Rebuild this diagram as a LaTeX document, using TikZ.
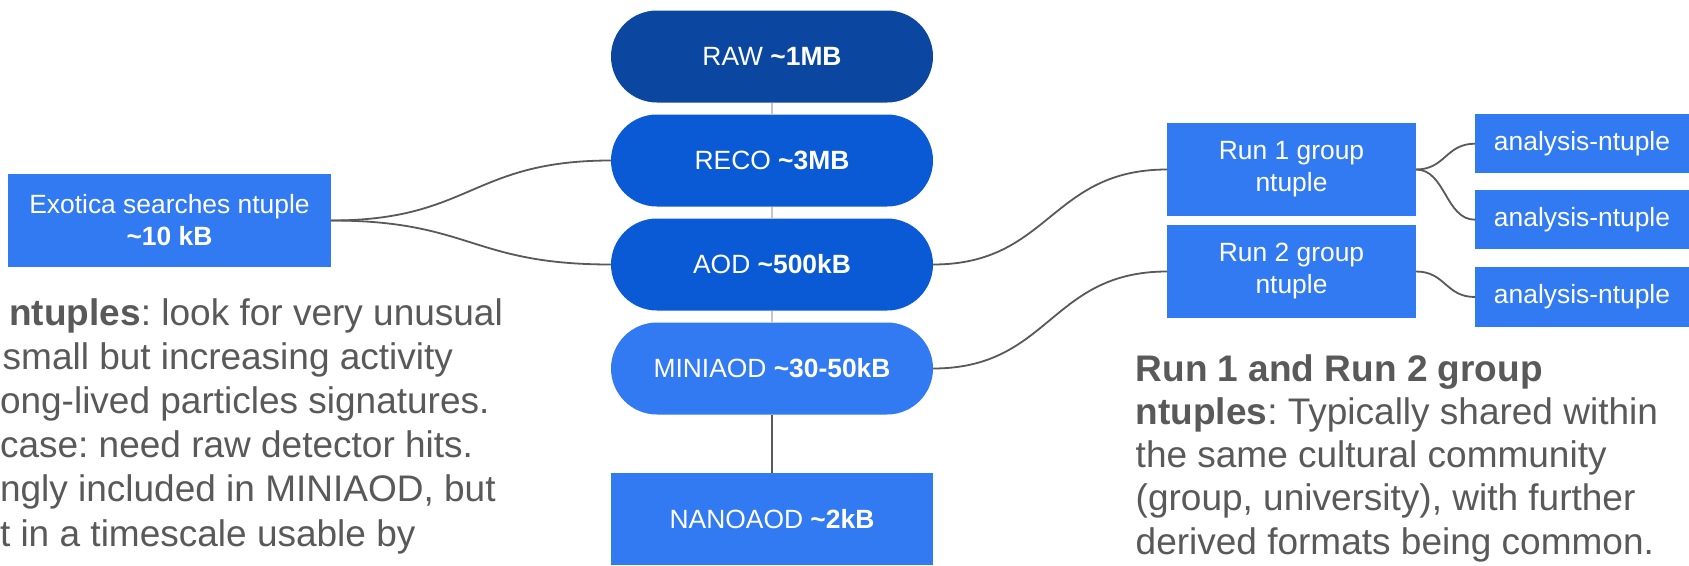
\documentclass[tikz,border=0pt]{standalone}
\usepackage{fontspec}
\setmainfont{Liberation Sans}
\usetikzlibrary{calc}
\definecolor{rawblue}{HTML}{0B47A1}
\definecolor{midblue}{HTML}{0B5AD5}
\definecolor{liteblue}{HTML}{327AF2}
\definecolor{txtgrey}{HTML}{595959}
\definecolor{lngrey}{HTML}{595959}
\definecolor{pale}{HTML}{C6C6C6}
\frenchspacing
\begin{document}
\begin{tikzpicture}[x=1pt,y=-1pt,
  box/.style={draw=none, inner sep=0pt, outer sep=0pt, text=white, align=center,
    font=\fontsize{26.4}{32}\selectfont},
  pill/.style={box, rounded corners=46pt, minimum width=322pt, minimum height=92pt},
  rectbox/.style={box, fill=liteblue},
  conn/.style={draw=lngrey, line width=1.8pt},
  paleline/.style={draw=pale, line width=2pt},
  note/.style={inner sep=0pt, outer sep=0pt, anchor=base west, text=txtgrey,
    font=\fontsize{37}{44}\selectfont},
  curvy/.style={to path={let \p1=(\tikztostart), \p2=(\tikztotarget) in
    .. controls ({0.5*\x1+0.5*\x2},\y1) and ({0.5*\x1+0.5*\x2},\y2) .. (\tikztotarget)}}
]
\fill[white] (0,0) rectangle (1689,565);
\useasboundingbox (0,0) rectangle (1689,565);

% central column
\node[pill, fill=rawblue]  (raw)  at (772,56.5)  {RAW \textbf{\textasciitilde1MB}};
\node[pill, fill=midblue]  (reco) at (772,160.5) {RECO \textbf{\textasciitilde3MB}};
\node[pill, fill=midblue]  (aod)  at (772,264.5) {AOD \textbf{\textasciitilde500kB}};
\node[pill, fill=liteblue] (mini) at (772,368.5) {MINIAOD \textbf{\textasciitilde30-50kB}};
\node[rectbox, minimum width=322pt, minimum height=92pt] (nano) at (772,519) {NANOAOD \textbf{\textasciitilde2kB}};

% side boxes
\node[rectbox, minimum width=323pt, minimum height=93pt] (exo) at (169.5,220.5)
  {Exotica searches ntuple\\\textbf{\textasciitilde10 kB}};
\node[rectbox, minimum width=249pt, minimum height=93pt] (run1) at (1291.5,169.5)
  {Run 1 group\\ntuple};
\node[rectbox, minimum width=249pt, minimum height=93pt] (run2) at (1291.5,271.5)
  {Run 2 group\\ntuple};
\node[rectbox, minimum width=214pt, minimum height=59.5pt] (an1) at (1582,143.7) {analysis-ntuple};
\node[rectbox, minimum width=214pt, minimum height=59.5pt] (an2) at (1582,219.7) {analysis-ntuple};
\node[rectbox, minimum width=214pt, minimum height=59.5pt] (an3) at (1582,297) {analysis-ntuple};

% vertical links
\draw[paleline] (raw.south) -- (reco.north);
\draw[paleline] (reco.south) -- (aod.north);
\draw[paleline] (aod.south) -- (mini.north);
\draw[conn] (mini.south) -- (nano.north);

% curved connectors
\draw[conn] (exo.east) to[curvy] (reco.west);
\draw[conn] (exo.east) to[curvy] (aod.west);
\draw[conn] (aod.east) to[curvy] (run1.west);
\draw[conn] (mini.east) to[curvy] (run2.west);
\draw[conn] (run1.east) to[curvy] (an1.west);
\draw[conn] (run1.east) to[curvy] (an2.west);
\draw[conn] (run2.east) to[curvy] (an3.west);

% left note
\node[note] (l1) at (9.3,325)  {\textbf{ntuples}: look for very unusual};
\node[note] (l2) at (2.7,369.2) {small but increasing activity};
\node[note] (l3) at (0,413.4)  {ong-lived particles signatures.};
\node[note] (l4) at (0,457.6)  {case: need raw detector hits.};
\node[note] (l5) at (0,501.8)  {ngly included in MINIAOD, but};
\node[note] (l6) at (0,546)    {t in a timescale usable by};

% right note
\node[note] (r1) at (1135.7,381)   {\textbf{Run 1 and Run 2 group}};
\node[note] (r2) at (1135.7,424.3) {\textbf{ntuples}: Typically shared within};
\node[note] (r3) at (1135.7,467.6) {the same cultural community};
\node[note] (r4) at (1135.7,510.9) {(group, university), with further};
\node[note] (r5) at (1135.7,554.2) {derived formats being common.};
\end{tikzpicture}
\end{document}
